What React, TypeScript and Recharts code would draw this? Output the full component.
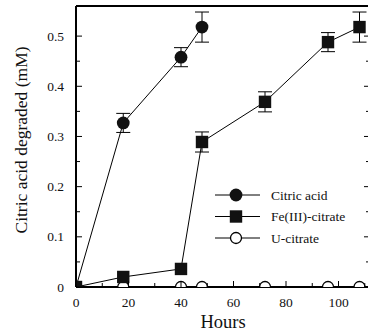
import React from "react";
import { LineChart, Line, XAxis, YAxis, ErrorBar, Legend } from "recharts";

// sampling times (h)
const hours = [0, 18, 40, 48, 72, 96, 108];

// citric acid degraded (mM)
const citricAcid = [0, 0.327, 0.458, 0.518];
const citricAcidErr = [0, 0.019, 0.019, 0.03];
const feCitrate = [0, 0.02, 0.036, 0.289, 0.369, 0.488, 0.518];
const feCitrateErr = [0, 0, 0, 0.02, 0.02, 0.019, 0.03];
const uCitrate = [0, 0, 0, 0, 0, 0, 0];

const xTicks = [0, 10, 20, 30, 40, 50, 60, 70, 80, 90, 100, 110];
const yTicks = [0, 0.05, 0.1, 0.15, 0.2, 0.25, 0.3, 0.35, 0.4, 0.45, 0.5];

const FONT = "'Liberation Serif', 'Times New Roman', serif";
const TXT = { fontFamily: FONT, fill: "#111" };

const table = hours.map((h, i) => ({
  h,
  citric: citricAcid[i],
  citricErr: citricAcidErr[i],
  fe: feCitrate[i],
  feErr: feCitrateErr[i],
  u: uCitrate[i],
}));

type Shape = "disc" | "square" | "ring";

function Marker({ shape, cx, cy }: { shape: Shape; cx: number; cy: number }) {
  if (shape === "square") return <rect x={cx - 6.2} y={cy - 6.2} width={12.4} height={12.4} fill="#111" />;
  if (shape === "ring") return <circle cx={cx} cy={cy} r={5.5} fill="#fff" stroke="#000" strokeWidth={1.3} />;
  return <circle cx={cx} cy={cy} r={6.4} fill="#111" />;
}

const SERIES: { key: string; name: string; shape: Shape }[] = [
  { key: "citric", name: "Citric acid", shape: "disc" },
  { key: "fe", name: "Fe(III)-citrate", shape: "square" },
  { key: "u", name: "U-citrate", shape: "ring" },
];

const dotFor = (shape: Shape) => (p: any) => {
  if (p.cy == null || p.value == null) return <g key={p.index} />;
  return <Marker key={p.index} shape={shape} cx={p.cx} cy={p.cy} />;
};

function BottomTick({ x, y, payload }: any) {
  const major = payload.value % 20 === 0;
  return (
    <g>
      <line x1={x} y1={y} x2={x} y2={y - (major ? 6 : 4)} stroke="#000" />
      {major && (
        <text x={x} y={y + 20} textAnchor="middle" style={{ ...TXT, fontSize: 13.5 }}>
          {payload.value}
        </text>
      )}
    </g>
  );
}

function TopTick({ x, y, payload }: any) {
  const major = payload.value % 20 === 0;
  return <line x1={x} y1={y} x2={x} y2={y + (major ? 6 : 4)} stroke="#000" />;
}

function LeftTick({ x, y, payload }: any) {
  const major = Math.round(payload.value * 100) % 10 === 0;
  return (
    <g>
      <line x1={x} y1={y} x2={x + (major ? 6 : 4)} y2={y} stroke="#000" />
      {major && (
        <text x={x - 12} y={y + 4.5} textAnchor="end" style={{ ...TXT, fontSize: 13.5 }}>
          {payload.value === 0 ? "0" : payload.value.toFixed(1)}
        </text>
      )}
    </g>
  );
}

function RightTick({ x, y, payload }: any) {
  const major = Math.round(payload.value * 100) % 10 === 0;
  return <line x1={x} y1={y} x2={x - (major ? 6 : 4)} y2={y} stroke="#000" />;
}

function LegendBox() {
  return (
    <svg width={160} height={70} style={{ display: "block" }}>
      {SERIES.map((s, i) => {
        const cy = 10 + i * 21.5;
        return (
          <g key={s.key}>
            <line x1={5} x2={50} y1={cy} y2={cy} stroke="#000" />
            <Marker shape={s.shape} cx={26} cy={cy} />
            <text x={61} y={cy + 4.5} style={{ ...TXT, fontSize: 13.5 }}>
              {s.name}
            </text>
          </g>
        );
      })}
    </svg>
  );
}

export default function App() {
  return (
    <div style={{ position: "absolute", left: 0, top: 0, width: 368, height: 331, overflow: "hidden", background: "#fff" }}>
      <LineChart width={372} height={331} data={table} margin={{ top: 0, right: 0, bottom: 0, left: 0 }}>
        <XAxis
          xAxisId="b"
          dataKey="h"
          type="number"
          domain={[0, 112]}
          ticks={xTicks}
          interval={0}
          allowDataOverflow
          height={44}
          tickSize={0}
          tickMargin={0}
          tickLine={false}
          tick={<BottomTick />}
          axisLine={{ stroke: "#000", strokeWidth: 2 }}
          label={{
            value: "Hours",
            position: "insideBottom",
            offset: 3,
            style: { ...TXT, fontSize: 18.5 },
          }}
        />
        <XAxis
          xAxisId="t"
          orientation="top"
          type="number"
          domain={[0, 112]}
          ticks={xTicks}
          interval={0}
          allowDataOverflow
          height={6}
          tickSize={0}
          tickMargin={0}
          tickLine={false}
          tick={<TopTick />}
          axisLine={{ stroke: "#000", strokeWidth: 2 }}
        />
        <YAxis
          yAxisId="l"
          type="number"
          domain={[0, 0.56]}
          ticks={yTicks}
          interval={0}
          allowDataOverflow
          width={76}
          tickSize={0}
          tickMargin={0}
          tickLine={false}
          tick={<LeftTick />}
          axisLine={{ stroke: "#000", strokeWidth: 2 }}
          label={{
            content: () => (
              <text
                x={21}
                y={140}
                transform="rotate(-90, 21, 140)"
                textAnchor="middle"
                dominantBaseline="central"
                style={{ ...TXT, fontSize: 17.5 }}
              >
                Citric acid degraded (mM)
              </text>
            ),
          }}
        />
        <YAxis
          yAxisId="r"
          orientation="right"
          type="number"
          domain={[0, 0.56]}
          ticks={yTicks}
          interval={0}
          allowDataOverflow
          width={2}
          tickSize={0}
          tickMargin={0}
          tickLine={false}
          tick={<RightTick />}
          axisLine={{ stroke: "#000", strokeWidth: 2 }}
        />
        <Legend
          layout="vertical"
          align="center"
          verticalAlign="middle"
          content={() => <LegendBox />}
          wrapperStyle={{ left: 210, top: 185, width: 160, height: 70 }}
        />
        <Line
          xAxisId="b"
          yAxisId="l"
          dataKey="u"
          name="U-citrate"
          stroke="#000"
          strokeWidth={1.2}
          dot={dotFor("ring")}
          activeDot={false}
          isAnimationActive={false}
        />
        <Line
          xAxisId="b"
          yAxisId="l"
          dataKey="citric"
          name="Citric acid"
          stroke="#000"
          strokeWidth={1}
          dot={dotFor("disc")}
          activeDot={false}
          isAnimationActive={false}
        >
          <ErrorBar dataKey="citricErr" direction="y" width={7} stroke="#000" strokeWidth={1} />
        </Line>
        <Line
          xAxisId="b"
          yAxisId="l"
          dataKey="fe"
          name="Fe(III)-citrate"
          stroke="#000"
          strokeWidth={1}
          dot={dotFor("square")}
          activeDot={false}
          isAnimationActive={false}
        >
          <ErrorBar dataKey="feErr" direction="y" width={7} stroke="#000" strokeWidth={1} />
        </Line>
      </LineChart>
    </div>
  );
}
